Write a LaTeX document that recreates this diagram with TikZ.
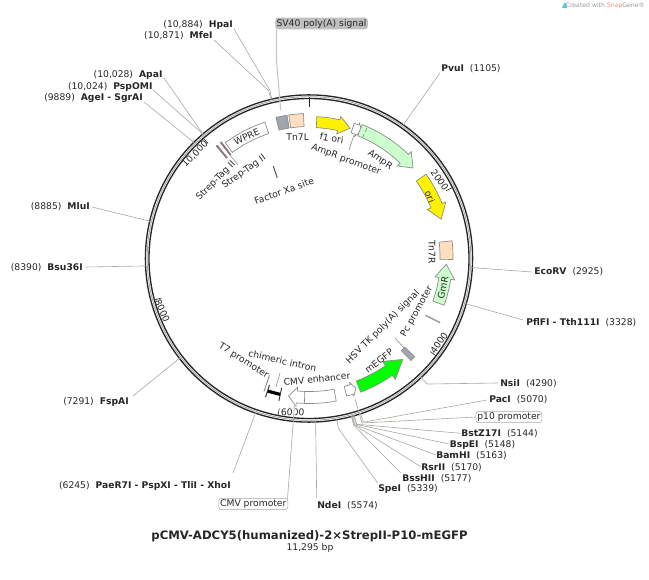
\documentclass[tikz,border=0pt]{standalone}
\usepackage{fontspec}
\setmainfont{DejaVu Sans}
\definecolor{leadc}{HTML}{A8A8A0}
\definecolor{featl}{HTML}{8A8A8A}
\definecolor{peach}{HTML}{FFDFBF}
\definecolor{mint}{HTML}{CCFFCC}
\definecolor{grayf}{HTML}{A0A5AD}
\definecolor{purp}{HTML}{9A6A80}
\definecolor{snapred}{HTML}{F0907F}
\definecolor{snapblue}{HTML}{5FC4E0}
\newcommand{\fs}{\fontsize{6.9}{8}\selectfont}
\newcommand{\arcarrow}[7]{% start, headbase, tip, r, hw, headhw, style
 \draw[#7] plot[domain=#1:#2,samples=16] ({\x-90}:{#4+#5}) -- ({#2-90}:{#4+#6}) -- ({#3-90}:{#4}) -- ({#2-90}:{#4-#6}) -- plot[domain=#2:#1,samples=16] ({\x-90}:{#4-#5}) -- cycle;}
\newcommand{\arcbox}[5]{% a1,a2,r,hw,style
 \draw[#5] plot[domain=#1:#2,samples=12] ({\x-90}:{#3+#4}) -- plot[domain=#2:#1,samples=12] ({\x-90}:{#3-#4}) -- cycle;}
\tikzset{
 lab/.style={font=\fs,inner sep=0pt,text=black!85},
 site/.style={font=\fs,inner sep=0pt,text=black!85},
 lead/.style={draw=leadc,line width=0.45pt,line join=round},
 featline/.style={draw=featl,line width=0.5pt},
 callout/.style={font=\fs,rounded corners=2pt,inner xsep=1pt,inner ysep=1pt,text=black!85},
 tick/.style={draw=black!80,line width=0.5pt},
}
\begin{document}
\begin{tikzpicture}[x=0.75pt,y=-0.75pt]
\useasboundingbox (0,0) rectangle (649,580);
\node[font=\fontsize{4.6}{5}\selectfont,text=black!40,anchor=east,inner sep=0pt] (credit) at (645,5.5) {Created with \textcolor{snapred}{Snap}Gene®};
\fill[snapblue] (562,8) -- (564.5,2.5) -- (566,4) -- (567,8) -- cycle;
\begin{scope}[shift={(309,258.5)}]
 % ring
 \draw[line width=1pt,black!85] (0,0) circle[radius=163.6];
 \draw[line width=1pt,black!85] (0,0) circle[radius=160];
 \draw[line width=0.6pt,black!35] (0,0) circle[radius=161.8];
 % scale ticks
 \draw[tick] ({63.7-90}:153) -- ({63.7-90}:160);
 \draw[tick] ({127.5-90}:153) -- ({127.5-90}:160);
 \draw[tick] ({191.2-90}:153) -- ({191.2-90}:160);
 \draw[tick] ({255-90}:153) -- ({255-90}:160);
 \draw[tick] ({318.7-90}:153) -- ({318.7-90}:160);
 % ring attachment coordinates
 \foreach \n/\a in {apa/319.6,psp/319.5,age/315.2,mlu/283.2,bsu/267.4,fsp/232.4,pae/199.1,nde/177.7,pfl/106.1,eco/93.2,pvu/35.2}{
  \coordinate (\n R) at ({\a-90}:163);
  \coordinate (\n E) at ({\a-90}:165);
 }
 \foreach \n/\a in {hpa/346.9,mfe/346.5,nsi/136.7}{
  \coordinate (\n R) at ({\a-90}:163);
  \coordinate (\n E) at ({\a-90}:172.5);
 }
 \foreach \n/\a in {bss/165,rsr/164.78,bam/164.56,bspe/164.08,bst/163.95,pac/161.6,spe/170.2}{
  \coordinate (\n R) at ({\a-90}:163);
  \coordinate (\n E) at ({\a-90}:172.5);
 }
\end{scope}
\begin{scope}[shift={(309.5,257)}]
 % origin
 \draw[line width=1.1pt,black!85] (-90:150) -- (-90:159.5);
 % features
 \arcbox{-13.5}{-9}{137}{6.5}{featline,fill=grayf}
 \arcbox{-8.3}{-2.4}{137}{6.5}{featline,fill=peach}
 \arcarrow{3}{12.5}{17.5}{135}{5.5}{9}{featline,fill=yellow}
 \arcarrow{18.5}{20.5}{22.5}{136}{5}{7}{featline,fill=white}
 \arcarrow{21.7}{44}{49.3}{136.5}{6}{10}{featline,fill=mint}
 \draw[featline,densely dashed] ({24-90}:130.5) -- ({24-90}:142.5);
 \arcarrow{54.6}{68}{74}{137}{6}{10}{featline,fill=yellow}
 \arcbox{83.5}{91}{137}{6.5}{featline,fill=peach}
 \arcarrow{109.7}{99}{93}{137}{6}{10}{featline,fill=mint}
 \arcbox{116.5}{116.9}{138}{8}{draw=black!45,line width=0.25pt,fill=black!30}
 \arcbox{133.4}{135.6}{138}{7}{draw=black!45,line width=0.4pt,fill=grayf}
 \arcarrow{159.3}{145}{137.7}{138.5}{6}{11}{featline,fill=green}
 \arcarrow{165}{162.3}{160.5}{139}{5}{7}{featline,fill=white}
 \arcarrow{169.5}{185.2}{188.6}{140.5}{6}{9.5}{featline,fill=white}
 \draw[featline] ({182-90}:134.5) -- ({182-90}:146.5);
 \draw[line width=2.4pt,black] ({192-90}:140.5) -- ({197.4-90}:140.5);
 \draw[line width=0.7pt,black!80] ({192-90}:134) -- ({192-90}:147);
 \draw[line width=0.7pt,black!80] ({197.4-90}:134) -- ({197.4-90}:147);
 \draw[line width=0.7pt,black!45] ({198.7-90}:125) -- ({198.7-90}:142);
 \arcbox{319.9}{320.5}{137}{8}{draw=black!50,line width=0.3pt,fill=purp}
 \arcbox{322}{322.6}{137}{8}{draw=black!50,line width=0.3pt,fill=purp}
 \arcbox{323.6}{341.7}{136}{6}{featline,fill=white}
\end{scope}
% leader start points on features
\coordinate (svF) at (280.7,110);
\coordinate (svE) at (276.5,60);
\coordinate (p10F) at (355,399);
\coordinate (p10E) at (362,423);
\coordinate (cmvF) at (294.5,404);
\coordinate (cmvM) at (293.6,416);
\coordinate (cmvE) at (287.5,499);
\coordinate (chiF) at (276,387);
\coordinate (chiL) at (280,373);
\coordinate (stF) at (230,155);
\coordinate (stL) at (238,165);
\coordinate (amF) at (354,135);
\coordinate (amL) at (349,150);
\coordinate (hsvF) at (404,348);
\coordinate (hsvL) at (395,338);
% inner mark
\coordinate (fxA) at (273.3,166);
\coordinate (fxB) at (277.3,178);
\draw[line width=0.7pt,black!70] (fxA) -- (fxB);
\draw[featline,draw=black!40] (chiF) -- (chiL);
\draw[featline,draw=black!40] (stF) -- (stL);
\draw[featline,draw=black!40] (amF) -- (amL);
\draw[featline,draw=black!40] (hsvF) -- (hsvL);
% feature labels
\node[lab,rotate=0] (ltn7l) at (297.7,137) {Tn7L};
\node[lab,rotate=-10] (lf1) at (331.7,138.5) {f1 ori};
\node[lab,rotate=-20] (lampp) at (346,160) {AmpR promoter};
\node[lab,rotate=-35] (lamp) at (380,160) {AmpR};
\node[lab,rotate=-68] (lori) at (430,197) {ori};
\node[lab,rotate=-90] (ltn7r) at (432,252) {Tn7R};
\node[lab,rotate=78] (lgm) at (443,288) {GmR};
\node[lab,rotate=61] (lpc) at (417,312) {Pc promoter};
\node[lab,rotate=45] (lhsv) at (383,327) {HSV TK poly(A) signal};
\node[lab,rotate=38] (lgfp) at (379,361) {mEGFP};
\node[lab,rotate=6] (lenh) at (317,379) {CMV enhancer};
\node[lab,rotate=-13] (lchi) at (282.5,361) {chimeric intron};
\node[lab,rotate=-32] (lt7) at (243.5,361) {T7 promoter};
\node[lab,rotate=25] (lwpre) at (246.7,136.7) {WPRE};
\node[lab,rotate=35] (lst2) at (244,172) {Strep-Tag II};
\node[lab,rotate=45] (lst1) at (216,181) {Strep-Tag II};
\node[lab,rotate=20] (lfx) at (284,191) {Factor Xa site};
% scale labels
\node[lab,rotate=-55] (s2) at (439.7,180) {2000};
\node[lab,rotate=55] (s4) at (439,343) {4000};
\node[lab,rotate=-3] (s6) at (292.7,412.3) {6000};
\node[lab,rotate=-65] (s8) at (162.3,310.7) {8000};
\node[lab,rotate=45] (s10) at (195,154) {10,000};
% callouts
\node[callout,draw=black!35,fill=white,anchor=west] (p10) at (475.7,417) {p10 promoter};
\node[callout,draw=black!35,fill=white,anchor=center] (cmv) at (253.3,504) {CMV promoter};
\node[callout,fill=black!25,anchor=west] (sv) at (275,23.5) {SV40 poly(A) signal};
\draw[draw=black!22,line width=0.8pt] (sv.south west) ++(1.5,0) -- (svE) -- (svF);
\draw[lead] (p10F) -- (p10E) -- (p10.west);
\draw[draw=white,line width=1.5pt] (cmvF) -- (cmvM);
\draw[lead] (cmvF) -- (cmvE);
% sites
\newcommand{\sitelabel}[5]{% name, x, y, anchor, text
 \node[site,anchor=#4] (#1) at (#2,#3) {#5};}
\sitelabel{nhpa}{233}{25}{east}{(10,884)\hspace{4.5pt}\textbf{HpaI}}
\sitelabel{nmfe}{212.7}{36}{east}{(10,871)\hspace{4.5pt}\textbf{MfeI}}
\sitelabel{napa}{162.7}{75}{east}{(10,028)\hspace{4.5pt}\textbf{ApaI}}
\sitelabel{npsp}{152.7}{86.7}{east}{(10,024)\hspace{4.5pt}\textbf{PspOMI}}
\sitelabel{nage}{143}{98}{east}{(9889)\hspace{4.5pt}\textbf{AgeI - SgrAI}}
\sitelabel{nmlu}{90}{207}{east}{(8885)\hspace{4.5pt}\textbf{MluI}}
\sitelabel{nbsu}{83}{268}{east}{(8390)\hspace{4.5pt}\textbf{Bsu36I}}
\sitelabel{nfsp}{129}{402}{east}{(7291)\hspace{4.5pt}\textbf{FspAI}}
\sitelabel{npae}{231}{486}{east}{(6245)\hspace{4.5pt}\textbf{PaeR7I - PspXI - TliI - XhoI}}
\sitelabel{nnde}{317}{506}{west}{\textbf{NdeI}\hspace{4.5pt}(5574)}
\sitelabel{nspe}{378}{489}{west}{\textbf{SpeI}\hspace{4.5pt}(5339)}
\sitelabel{nbss}{402}{478.5}{west}{\textbf{BssHII}\hspace{4.5pt}(5177)}
\sitelabel{nrsr}{421}{467.5}{west}{\textbf{RsrII}\hspace{4.5pt}(5170)}
\sitelabel{nbam}{436}{456}{west}{\textbf{BamHI}\hspace{4.5pt}(5163)}
\sitelabel{nbspe}{449.5}{445}{west}{\textbf{BspEI}\hspace{4.5pt}(5148)}
\sitelabel{nbst}{461}{433.5}{west}{\textbf{BstZ17I}\hspace{4.5pt}(5144)}
\sitelabel{npac}{489}{400}{west}{\textbf{PacI}\hspace{4.5pt}(5070)}
\sitelabel{nnsi}{500}{383.5}{west}{\textbf{NsiI}\hspace{4.5pt}(4290)}
\sitelabel{npfl}{526}{323}{west}{\textbf{PflFI - Tth111I}\hspace{4.5pt}(3328)}
\sitelabel{neco}{534}{272}{west}{\textbf{EcoRV}\hspace{4.5pt}(2925)}
\sitelabel{npvu}{441}{69}{west}{\textbf{PvuI}\hspace{4.5pt}(1105)}
% leaders
\draw[lead] (hpaR) -- (hpaE) -- (234,29);
\draw[lead] (mfeR) -- (mfeE) -- (214,40);
\draw[lead] (apaR) -- (apaE) -- (164,78);
\draw[lead] (pspR) -- (pspE) -- (153,90);
\draw[lead] (ageR) -- (ageE) -- (144,102);
\draw[lead] (mluR) -- (mluE) -- (92,207);
\draw[lead] (bsuR) -- (bsuE) -- (86,267);
\draw[lead] (fspR) -- (fspE) -- (133,396);
\draw[lead] (paeR) -- (paeE) -- (233,473);
\draw[lead] (ndeR) -- (ndeE) -- (316.7,498);
\draw[lead] (speR) -- (speE) -- (377.7,483);
\draw[lead] (bssR) -- (bssE) -- (400.7,473);
\draw[lead] (rsrR) -- (rsrE) -- (420.7,466.7);
\draw[lead] (bamR) -- (bamE) -- (436,455);
\draw[lead] (bspeR) -- (bspeE) -- (449.3,444);
\draw[lead] (bstR) -- (bstE) -- (460.7,433.3);
\draw[lead] (pacR) -- (pacE) -- (487,400);
\draw[lead] (nsiR) -- (nsiE) -- (498,383);
\draw[lead] (pflR) -- (pflE) -- (523,320);
\draw[lead] (ecoR) -- (ecoE) -- (532,272);
\draw[lead] (pvuR) -- (pvuE) -- (440,73);
% title
\node[font=\fontsize{8.75}{10}\selectfont\bfseries,inner sep=0pt,text=black!85] (title) at (309.5,536) {pCMV-ADCY5(humanized)-2×StrepII-P10-mEGFP};
\node[font=\fs,inner sep=0pt,text=black!85] (size) at (310,548) {11,295 bp};
\end{tikzpicture}
\end{document}
